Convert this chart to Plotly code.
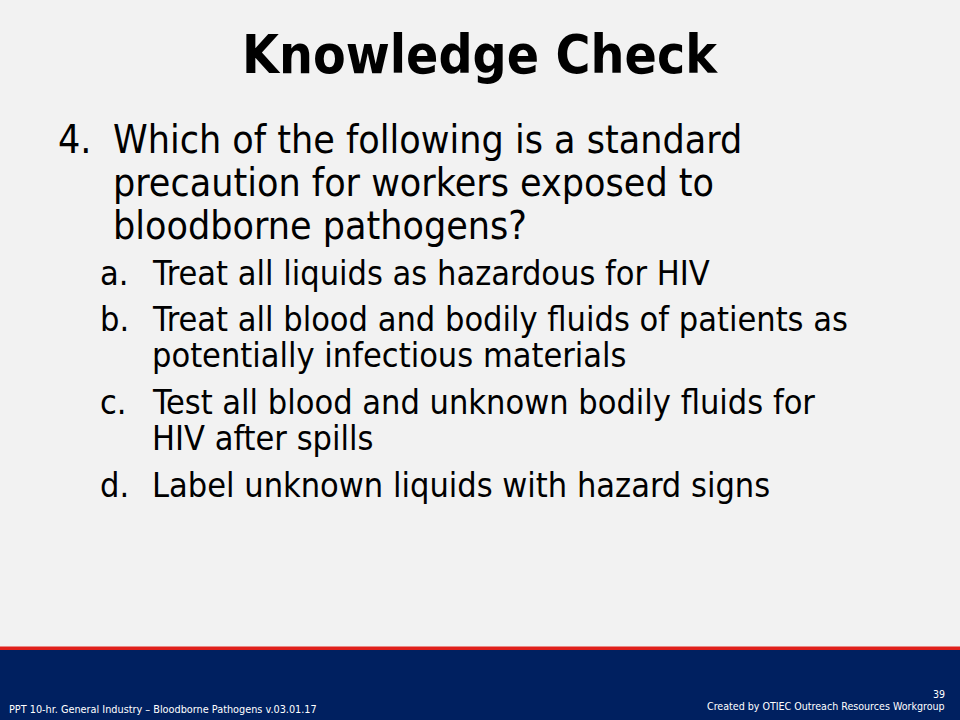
import plotly.graph_objects as go

title_text = "Knowledge Check"
question_number = "4."
question_lines = [
    "Which of the following is a standard",
    "precaution for workers exposed to",
    "bloodborne pathogens?",
]
option_labels = ["a.", "b.", "c.", "d."]
option_lines = [
    ["Treat all liquids as hazardous for HIV"],
    ["Treat all blood and bodily fluids of patients as", "potentially infectious materials"],
    ["Test all blood and unknown bodily fluids for", "HIV after spills"],
    ["Label unknown liquids with hazard signs"],
]
footer_left = "PPT 10-hr. General Industry \u2013 Bloodborne Pathogens v.03.01.17"
footer_right = "Created by OTIEC Outreach Resources Workgroup"
page_number = "39"

FONT = "DejaVu Sans Condensed, DejaVu Sans, sans-serif"
BG = "#f2f2f2"
NAVY = "#002060"
RED = "#e0201c"

fig = go.Figure()
ann = []

# title
t_fs = 53
ann.append(dict(x=480, y=73 - 0.346 * t_fs, text="<b>" + title_text + "</b>", xanchor="center", yanchor="middle",
                font=dict(family=FONT, size=t_fs, color="black")))

# question
q_base = [153, 196, 239]
q_fs = 39
q_off = 0.346 * q_fs
ann.append(dict(x=56, y=q_base[0] - q_off, text=question_number, xanchor="left", yanchor="middle",
                font=dict(family=FONT, size=q_fs, color="black")))
for line, b in zip(question_lines, q_base):
    ann.append(dict(x=111, y=b - q_off, text=line, xanchor="left", yanchor="middle",
                    font=dict(family=FONT, size=q_fs, color="black")))

# options
o_fs = 34
o_off = 0.346 * o_fs
o_base = [[285], [331, 367], [414, 450], [497]]
for lab, lines, bases in zip(option_labels, option_lines, o_base):
    ann.append(dict(x=98, y=bases[0] - o_off, text=lab, xanchor="left", yanchor="middle",
                    font=dict(family=FONT, size=o_fs, color="black")))
    for line, b in zip(lines, bases):
        ann.append(dict(x=150, y=b - o_off, text=line, xanchor="left", yanchor="middle",
                        font=dict(family=FONT, size=o_fs, color="black")))

# footer text
ann.append(dict(x=7, y=709, text=footer_left, xanchor="left", yanchor="middle",
                font=dict(family=FONT, size=10.8, color="white")))
ann.append(dict(x=947, y=694, text=page_number, xanchor="right", yanchor="middle",
                font=dict(family=FONT, size=10.5, color="white")))
ann.append(dict(x=947, y=706, text=footer_right, xanchor="right", yanchor="middle",
                font=dict(family=FONT, size=10.6, color="white")))

for a in ann:
    a.update(xref="x", yref="y", showarrow=False)

shapes = [
    dict(type="rect", xref="x", yref="y", x0=0, x1=960, y0=649, y1=720, fillcolor=NAVY, line_width=0, layer="below"),
    dict(type="rect", xref="x", yref="y", x0=0, x1=960, y0=646.5, y1=650, fillcolor=RED, line_width=0, layer="below"),
]

fig.update_layout(
    width=960, height=720,
    margin=dict(l=0, r=0, t=0, b=0),
    paper_bgcolor=BG, plot_bgcolor=BG,
    xaxis=dict(range=[0, 960], visible=False, fixedrange=True),
    yaxis=dict(range=[720, 0], visible=False, fixedrange=True),
    annotations=ann, shapes=shapes, showlegend=False,
)
fig.write_html("out.html", config={"displayModeBar": False},
               post_script="document.body.style.margin='0';document.body.style.overflow='hidden';")
